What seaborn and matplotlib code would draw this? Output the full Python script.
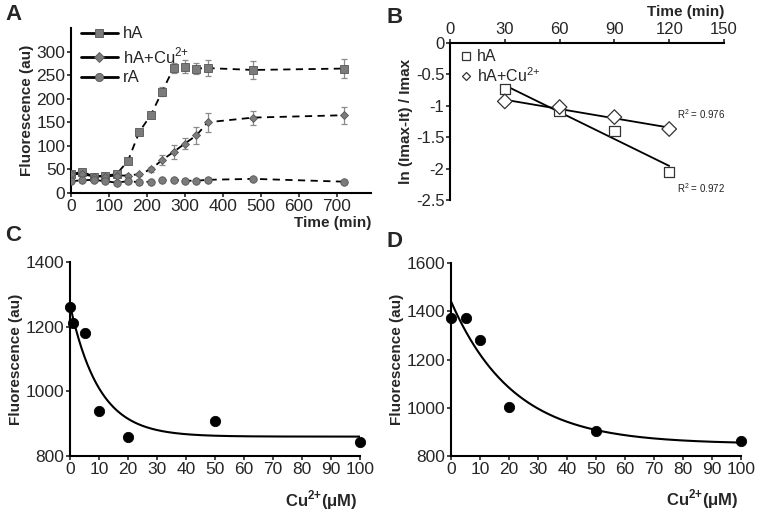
import numpy as np
import pandas as pd
import matplotlib
matplotlib.use("Agg")
import matplotlib.pyplot as plt
import seaborn as sns
from matplotlib.lines import Line2D

sns.set_theme(style="ticks")
plt.rcParams['font.family'] = ['Liberation Sans', 'DejaVu Sans']
plt.rcParams['mathtext.fontset'] = 'custom'
plt.rcParams['mathtext.rm'] = 'Liberation Sans'
plt.rcParams['mathtext.bf'] = 'Liberation Sans:bold'

# ---------------- Panel A data ----------------
time_a = [0, 30, 60, 90, 120, 150, 180, 210, 240, 270, 300, 330, 360, 480, 720]
hA = [40, 45, 35, 37, 40, 68, 130, 165, 215, 265, 268, 264, 265, 261, 264]
hA_err = [3, 3, 3, 3, 3, 3, 4, 5, 10, 10, 14, 12, 17, 20, 20]
hA_cu = [40, 40, 35, 35, 37, 37, 40, 50, 70, 87, 105, 122, 150, 160, 165]
hA_cu_err = [3, 3, 3, 3, 3, 3, 3, 5, 10, 14, 12, 17, 20, 15, 18]
rA = [25, 27, 28, 25, 22, 25, 23, 24, 27, 28, 26, 26, 28, 30, 24]
rA_err = [2] * 15
series_a = ["hA", r"hA+Cu$^{2{+}}$", "rA"]

# ---------------- Panel B data ----------------
time_b = [30, 60, 90, 120]
ln_hA = [-0.73, -1.08, -1.40, -2.05]
ln_hA_cu = [-0.93, -1.02, -1.18, -1.37]
r2_labels = ["R$^2$ = 0.972", "R$^2$ = 0.976"]

# ---------------- Panel C / D data ----------------
cu_c = [0, 1, 5, 10, 20, 50, 100]
fl_c = [1260, 1210, 1180, 940, 860, 908, 843]
fit_c = dict(top=1267, plateau=860, k=10.0)

cu_d = [0, 5, 10, 20, 50, 100]
fl_d = [1370, 1370, 1280, 1003, 902, 862]
fit_d = dict(top=1441, plateau=850, k=21.5)

W, H = 762, 514
fig = plt.figure(figsize=(W / 100, H / 100), dpi=100)

def rect(l, t, r, b):
    return [l / W, 1 - b / H, (r - l) / W, (b - t) / H]

axA = fig.add_axes(rect(71, 28, 371, 193))
axB = fig.add_axes(rect(450, 43, 724, 200))
axC = fig.add_axes(rect(70, 262, 360, 456))
axD = fig.add_axes(rect(451, 263, 741, 456))

grey = "#7b7b7b"
edge = "#555555"

# ---------- Panel A ----------
dfA = pd.DataFrame({
    "time": time_a * 3,
    "value": hA + hA_cu + rA,
    "err": hA_err + hA_cu_err + rA_err,
    "series": [series_a[0]] * 15 + [series_a[1]] * 15 + [series_a[2]] * 15,
})
markers_a = {series_a[0]: "s", series_a[1]: "D", series_a[2]: "o"}
msize = {series_a[0]: 5.2, series_a[1]: 4.2, series_a[2]: 5.4}
for s in series_a:
    sub = dfA[dfA.series == s]
    axA.errorbar(sub.time, sub.value, yerr=sub.err, fmt="none", ecolor="#8a8a8a",
                 elinewidth=0.9, capsize=2.5, capthick=0.9, zorder=2)
    sns.lineplot(data=sub, x="time", y="value", ax=axA, color="black",
                 linestyle=(0, (4, 3)), linewidth=1.3, zorder=3, legend=False)
    axA.plot(sub.time, sub.value, linestyle="none", marker=markers_a[s],
             markersize=msize[s], markerfacecolor=grey, markeredgecolor=edge,
             markeredgewidth=0.6, zorder=4)

axA.set_xlim(0, 790)
axA.set_ylim(0, 350)
axA.set_xticks(range(0, 701, 100))
axA.set_yticks(range(0, 301, 50))
axA.tick_params(labelsize=12.5, length=3, width=1.2, direction="out", pad=1)
for sp in ["left", "bottom"]:
    axA.spines[sp].set_linewidth(1.5)
    axA.spines[sp].set_color("black")
sns.despine(ax=axA)
axA.set_xlabel("")
axA.set_ylabel("Fluorescence (au)", fontsize=11, fontweight="bold", labelpad=2)
axA.text(1.0, -0.14, "Time (min)", transform=axA.transAxes, ha="right",
         va="top", fontsize=11, fontweight="bold")
handles = [Line2D([0], [0], color="black", linewidth=2.0, linestyle="-",
                  marker=markers_a[s], markersize=msize[s] + 0.5, markerfacecolor=grey,
                  markeredgecolor=edge, markeredgewidth=0.6) for s in series_a]
axA.legend(handles, series_a, loc="upper left", bbox_to_anchor=(0.0, 1.07),
           frameon=False, fontsize=12, handlelength=2.2, handletextpad=0.3,
           labelspacing=0.25, borderaxespad=0.2)

# ---------- Panel B ----------
dfB = pd.DataFrame({
    "time": time_b * 2,
    "ln": ln_hA + ln_hA_cu,
    "series": ["hA"] * 4 + ["hA+Cu"] * 4,
})
for y in [ln_hA, ln_hA_cu]:
    sns.regplot(x=time_b, y=y, ax=axB, ci=None, scatter=False, truncate=True,
                line_kws=dict(color="black", linewidth=1.3, zorder=2))
sns.scatterplot(data=dfB, x="time", y="ln", style="series", ax=axB,
                markers={"hA": "s", "hA+Cu": "D"}, s=55,
                facecolor="white", edgecolor="#333333", linewidth=0.9,
                zorder=3, legend=False)
axB.set_xlim(0, 150)
axB.set_ylim(-2.5, 0)
axB.set_xticks([0, 30, 60, 90, 120, 150])
axB.set_yticks([0, -0.5, -1, -1.5, -2, -2.5])
axB.set_yticklabels(["0", "-0.5", "-1", "-1.5", "-2", "-2.5"])
axB.xaxis.tick_top()
axB.spines["bottom"].set_visible(False)
axB.spines["right"].set_visible(False)
for sp in ["left", "top"]:
    axB.spines[sp].set_linewidth(1.5)
    axB.spines[sp].set_color("black")
axB.tick_params(labelsize=12, length=3, width=1.2, direction="out", pad=1)
axB.set_xlabel("")
axB.set_ylabel("ln (Imax-It) / Imax", fontsize=11, fontweight="bold", labelpad=2)
axB.text(1.0, 1.15, "Time (min)", transform=axB.transAxes, ha="right",
         va="bottom", fontsize=11, fontweight="bold")
axB.text(124, -2.31, r2_labels[0], fontsize=7, ha="left", va="center", color="#222222")
axB.text(124, -1.13, r2_labels[1], fontsize=7, ha="left", va="center", color="#222222")
hB = [Line2D([0], [0], linestyle="none", marker="s", markersize=6,
             markerfacecolor="white", markeredgecolor="#333333", markeredgewidth=0.9),
      Line2D([0], [0], linestyle="none", marker="D", markersize=4,
             markerfacecolor="white", markeredgecolor="#333333", markeredgewidth=0.9)]
axB.legend(hB, ["hA", r"hA+Cu$^{2{+}}$"], loc="upper left", bbox_to_anchor=(0.0, 1.02),
           frameon=False, fontsize=11.5, handlelength=0.8, handletextpad=0.3,
           labelspacing=0.1, borderaxespad=0.2)

# ---------- Panels C and D ----------
def dose_panel(ax, cu, fl, fit, ylim, yticks):
    xs = np.linspace(0, 100, 300)
    ys = fit["plateau"] + (fit["top"] - fit["plateau"]) * np.exp(-xs / fit["k"])
    sns.lineplot(x=xs, y=ys, ax=ax, color="black", linewidth=1.5, zorder=2)
    sns.scatterplot(x=cu, y=fl, ax=ax, color="black", s=55, edgecolor="black",
                    zorder=3, clip_on=False)
    ax.set_xlim(0, 100)
    ax.set_ylim(*ylim)
    ax.set_xticks(range(0, 101, 10))
    ax.set_yticks(yticks)
    ax.tick_params(labelsize=12.5, length=3, width=1.2, direction="out", pad=1)
    sns.despine(ax=ax)
    for sp in ["left", "bottom"]:
        ax.spines[sp].set_linewidth(1.5)
        ax.spines[sp].set_color("black")
    ax.set_ylabel("Fluorescence (au)", fontsize=11, fontweight="bold", labelpad=2)
    ax.set_xlabel("")
    ax.text(0.99, -0.165, r"Cu$^{\mathbf{2{+}}}$(μM)", transform=ax.transAxes,
            ha="right", va="top", fontsize=12, fontweight="bold")

dose_panel(axC, cu_c, fl_c, fit_c, (800, 1400), [800, 1000, 1200, 1400])
dose_panel(axD, cu_d, fl_d, fit_d, (800, 1600), [800, 1000, 1200, 1400, 1600])

# Panel letters
for lab, x, y in [("A", 5, 4), ("B", 387, 7), ("C", 5, 225), ("D", 387, 231)]:
    fig.text(x / W, 1 - y / H, lab, fontsize=16, fontweight="bold", va="top", ha="left")

fig.savefig("out.png", dpi=100)
